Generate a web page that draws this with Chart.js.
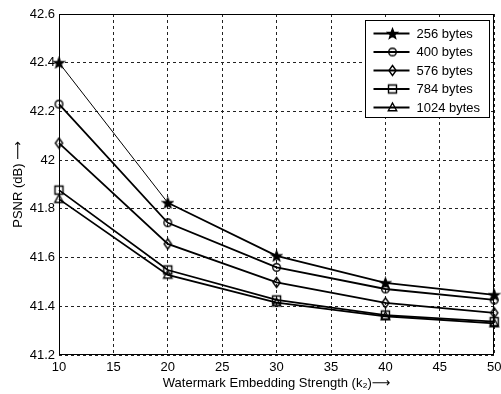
<!DOCTYPE html>
<html>
<head>
<meta charset="utf-8">
<script src="https://cdn.jsdelivr.net/npm/chart.js@4/dist/chart.umd.min.js"></script>
<style>
  html, body { margin: 0; padding: 0; background: #fff; }
  #wrap { width: 501px; height: 394px; }
</style>
</head>
<body>
<div id="wrap"><canvas id="psnrChart" width="501" height="394"></canvas></div>
<script>
// values
const strengths = [10, 20, 30, 40, 50];
const seriesLabels = ["256 bytes", "400 bytes", "576 bytes", "784 bytes", "1024 bytes"];
const psnr256 = [42.40, 41.825, 41.607, 41.496, 41.447];
const psnr400 = [42.23, 41.743, 41.560, 41.471, 41.426];
const psnr576 = [42.07, 41.656, 41.498, 41.414, 41.373];
const psnr784 = [41.877, 41.549, 41.426, 41.364, 41.337];
const psnr1024 = [41.84, 41.529, 41.415, 41.359, 41.330];
const xTicks = [10, 15, 20, 25, 30, 35, 40, 45, 50];
const yTicks = [41.2, 41.4, 41.6, 41.8, 42, 42.2, 42.4, 42.6];

const FONT = "'Liberation Sans', Arial, 'DejaVu Sans', sans-serif";

// small canvases used as point markers (matlab style)
function makeMarker(kind) {
    const c = document.createElement("canvas");
    c.width = 13;
    c.height = 13;
    const g = c.getContext("2d");
    const m = 6.5;
    g.strokeStyle = "#000";
    g.fillStyle = "#000";
    g.lineWidth = 1.4;
    g.beginPath();
    if (kind === "star") {
        for (let i = 0; i < 10; i++) {
            const r = i % 2 === 0 ? 5.2 : 2.2;
            const a = -Math.PI / 2 + i * Math.PI / 5;
            const px = m + r * Math.cos(a), py = m + 0.5 + r * Math.sin(a);
            if (i === 0) g.moveTo(px, py); else g.lineTo(px, py);
        }
        g.closePath();
        g.fill();
        g.stroke();
    } else if (kind === "circle") {
        g.arc(m, m, 3.8, 0, Math.PI * 2);
        g.stroke();
    } else if (kind === "diamond") {
        g.moveTo(m, m - 5);
        g.lineTo(m + 3.6, m);
        g.lineTo(m, m + 5);
        g.lineTo(m - 3.6, m);
        g.closePath();
        g.stroke();
    } else if (kind === "square") {
        g.rect(m - 4, m - 4, 8, 8);
        g.stroke();
    } else if (kind === "triangle") {
        g.moveTo(m, m - 4.5);
        g.lineTo(m + 4.2, m + 3.2);
        g.lineTo(m - 4.2, m + 3.2);
        g.closePath();
        g.stroke();
    }
    return c;
}

const markerKinds = ["star", "circle", "diamond", "square", "triangle"];
const markers = markerKinds.map(makeMarker);
const seriesValues = [psnr256, psnr400, psnr576, psnr784, psnr1024];

const datasets = seriesValues.map((vals, i) => ({
    label: seriesLabels[i],
    data: strengths.map((x, j) => ({ x: x, y: vals[j] })),
    borderColor: "#000",
    backgroundColor: "#000",
    borderWidth: 1.8,
    pointStyle: markers[i],
    pointRadius: 5,
    tension: 0,
    clip: false,
    segment: i === 0 ? {
        borderWidth: ctx => ctx.p0DataIndex === 0 ? 1 : 1.8
    } : undefined
}));

// plot box + boxed legend like the matlab figure
const boxLegend = {
    id: "boxLegend",
    beforeDatasetsDraw(chart) {
        const a = chart.chartArea;
        const ctx = chart.ctx;
        ctx.save();
        ctx.strokeStyle = "#000";
        ctx.lineWidth = 1;
        ctx.strokeRect(Math.round(a.left) + 0.5, Math.round(a.top) + 0.5,
            Math.round(a.right - a.left) - 1, Math.round(a.bottom - a.top) - 1);
        ctx.restore();
    },
    afterDraw(chart) {
        const a = chart.chartArea;
        const ctx = chart.ctx;
        const w = 124, h = 97;
        const left = Math.round(a.right - 5 - w) + 0.5;
        const top = Math.round(a.top + 6) + 0.5;
        ctx.save();
        ctx.fillStyle = "#fff";
        ctx.fillRect(left, top, w, h);
        ctx.strokeStyle = "#000";
        ctx.lineWidth = 1;
        ctx.strokeRect(left, top, w, h);
        ctx.font = "13px " + FONT;
        ctx.textBaseline = "middle";
        chart.data.datasets.forEach((ds, i) => {
            const y = top + 13 + i * 18.5;
            ctx.strokeStyle = "#000";
            ctx.lineWidth = 1.8;
            ctx.beginPath();
            ctx.moveTo(left + 8, y);
            ctx.lineTo(left + 44, y);
            ctx.stroke();
            ctx.drawImage(markers[i], left + 27 - 6.5, y - 6.5);
            ctx.fillStyle = "#000";
            ctx.fillText(ds.label, left + 51, y + 0.5);
        });
        ctx.restore();
    }
};

new Chart(document.getElementById("psnrChart"), {
    type: "line",
    data: { datasets: datasets },
    options: {
        responsive: false,
        animation: false,
        layout: { padding: { top: 14, right: 5, left: 0, bottom: 0 } },
        plugins: {
            legend: { display: false },
            tooltip: { enabled: false }
        },
        scales: {
            x: {
                type: "linear",
                min: 10,
                max: 50,
                afterBuildTicks: scale => { scale.ticks = xTicks.map(v => ({ value: v })); },
                afterFit: scale => {
                    scale.height = 39;
                    scale.paddingLeft = 0;
                    scale.paddingRight = 0;
                },
                ticks: {
                    color: "#000",
                    padding: 5,
                    font: { family: FONT, size: 13 },
                    maxRotation: 0,
                    callback: v => String(v)
                },
                grid: { color: "#222", lineWidth: 1, drawTicks: false },
                border: { display: false, dash: [3, 3] },
                title: {
                    display: true,
                    text: "Watermark Embedding Strength (k\u2082)\u27F6",
                    color: "#000",
                    font: { family: FONT, size: 13 },
                    padding: { top: 0, bottom: 3 }
                }
            },
            y: {
                type: "linear",
                min: 41.2,
                max: 42.6,
                afterBuildTicks: scale => { scale.ticks = yTicks.map(v => ({ value: v })); },
                afterFit: scale => {
                    scale.width = 59;
                    scale.paddingTop = 0;
                    scale.paddingBottom = 0;
                },
                ticks: {
                    color: "#000",
                    padding: 4,
                    font: { family: FONT, size: 13 },
                    callback: v => String(+v.toFixed(1))
                },
                grid: { color: "#222", lineWidth: 1, drawTicks: false },
                border: { display: false, dash: [3, 3] },
                title: {
                    display: true,
                    text: "PSNR (dB) \u27F6",
                    color: "#000",
                    font: { family: FONT, size: 13 },
                    padding: { top: 11, bottom: 0 }
                }
            }
        }
    },
    plugins: [boxLegend]
});
</script>
</body>
</html>
